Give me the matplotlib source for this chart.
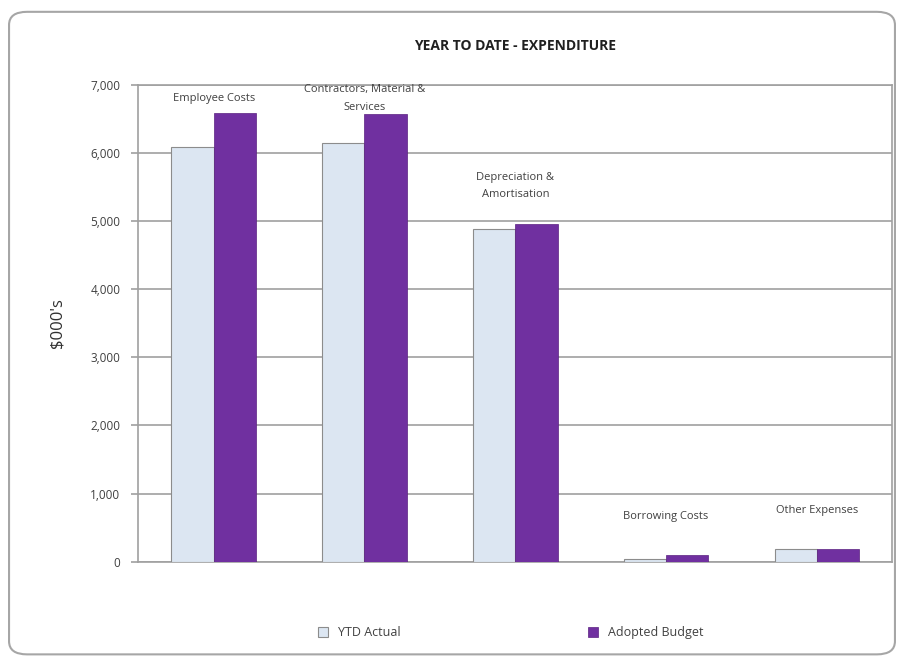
#!/usr/bin/env python3
"""Year to date expenditure: YTD actual vs adopted budget."""
import matplotlib
matplotlib.use("Agg")
import matplotlib.pyplot as plt
import numpy as np
from matplotlib.patches import FancyBboxPatch

categories = ["Employee Costs", "Contractors, Material &\nServices",
              "Depreciation &\nAmortisation", "Borrowing Costs", "Other Expenses"]
ytd_actual = [6080, 6150, 4890, 40, 190]
adopted_budget = [6580, 6570, 4950, 100, 190]
yticks = [0, 1000, 2000, 3000, 4000, 5000, 6000, 7000]

plt.rcParams["font.family"] = ["Open Sans", "DejaVu Sans"]

fig = plt.figure(figsize=(9.04, 6.57), dpi=100)
frame = FancyBboxPatch((0.01, 0.004), 0.98, 0.978, boxstyle="round,pad=0,rounding_size=0.02",
                       transform=fig.transFigure, facecolor="white", edgecolor="#a6a6a6",
                       linewidth=1.5, zorder=-10)
fig.patches.append(frame)

ax = fig.add_axes([0.153, 0.145, 0.834, 0.726])
ax.set_facecolor("none")
x = np.arange(len(categories))
w = 0.28
ax.bar(x - w / 2, ytd_actual, w, color="#dce6f2", edgecolor="#8c8c8c", linewidth=0.8,
       label="YTD Actual", zorder=3)
ax.bar(x + w / 2, adopted_budget, w, color="#7030a0", edgecolor="#5a2080", linewidth=0.5,
       label="Adopted Budget", zorder=3)

for xi, a, b, name in zip(x, ytd_actual, adopted_budget, categories):
    y = min(max(a, b) + 560, 6800)
    ax.text(xi, y, name, ha="center", va="center", fontsize=8, color="#404040",
            linespacing=1.8, zorder=4)

ax.set_xlim(-0.5, len(categories) - 0.5)
ax.set_ylim(0, 7000)
ax.set_yticks(yticks)
ax.set_yticklabels([f"{v:,}" for v in yticks], fontsize=8.5, color="#404040")
ax.set_xticks([])
ax.grid(axis="y", color="#a0a0a0", linewidth=1.2, zorder=0)
for side in ["top", "right", "left", "bottom"]:
    ax.spines[side].set_color("#a0a0a0")
    ax.spines[side].set_linewidth(1.2)
ax.tick_params(axis="y", length=5, width=1.2, color="#a0a0a0", pad=8)
ax.set_ylabel("$000's", fontsize=12, color="#303030", labelpad=18)
ax.set_title("YEAR TO DATE - EXPENDITURE", fontsize=10, fontweight="bold",
             color="#202020", pad=25)

fig.legend(loc="lower center", bbox_to_anchor=(0.565, 0.01), ncol=2, frameon=False,
           fontsize=9, handlelength=0.8, handleheight=0.8, columnspacing=15,
           labelcolor="#404040")

plt.savefig("out.png", dpi=100, facecolor="white")
plt.close()
